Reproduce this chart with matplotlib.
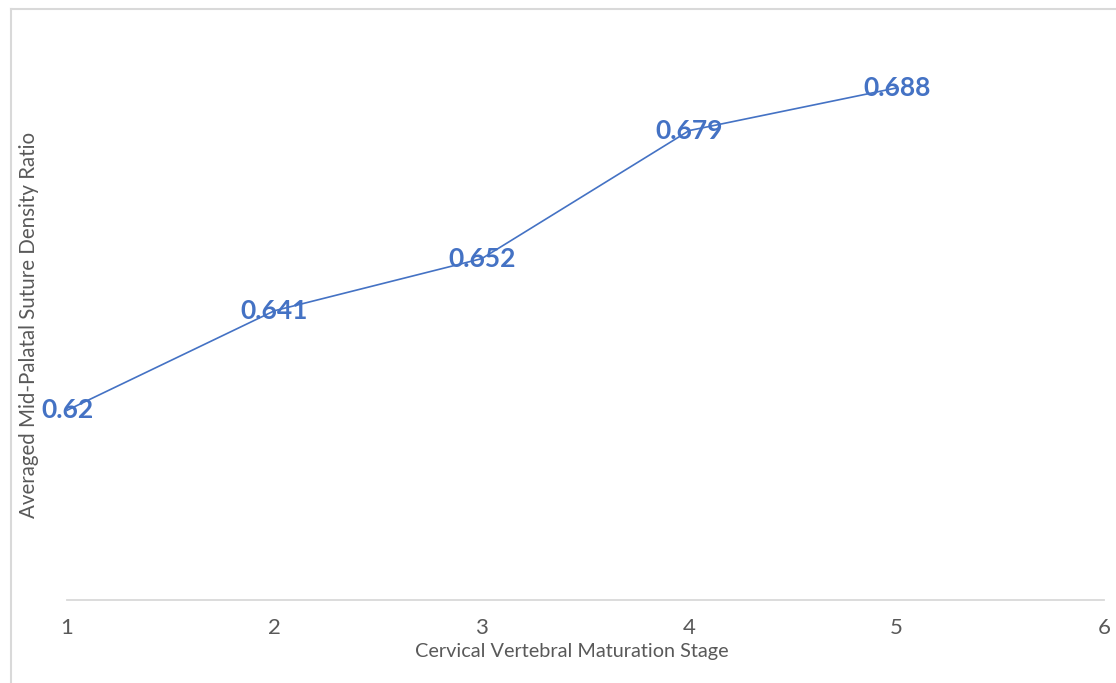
import matplotlib
matplotlib.use("Agg")
import matplotlib.pyplot as plt
from matplotlib.lines import Line2D

# mean suture density ratio per CVM stage
stages = [1, 2, 3, 4, 5]
density_ratio = [0.62, 0.641, 0.652, 0.679, 0.688]
xtick_vals = [1, 2, 3, 4, 5, 6]

blue = "#4472C4"
grey_txt = "#595959"
grey_line = "#D9D9D9"

plt.rcParams['font.family'] = ['Lato', 'DejaVu Sans']

fig = plt.figure(figsize=(11.16, 6.83), dpi=100)
ax = fig.add_axes([67 / 1116, 1 - 600 / 683, (1104 - 67) / 1116, (600 - 31) / 683])

ax.plot(stages, density_ratio, color=blue, lw=1.2, zorder=2)
for x, y in zip(stages, density_ratio):
    ax.text(x, y, f"{y:g}", ha="center", va="center", color=blue,
            fontsize=19, fontweight="bold", zorder=3)

ax.set_xlim(1, 6)
ax.set_ylim(0.58, 0.70)
ax.set_xticks(xtick_vals)
ax.set_xticklabels([str(v) for v in xtick_vals])
ax.set_yticks([])
ax.tick_params(axis="x", length=0, pad=13, labelsize=16, labelcolor=grey_txt)

for side in ["top", "right", "left"]:
    ax.spines[side].set_visible(False)
ax.spines["bottom"].set_color(grey_line)
ax.spines["bottom"].set_linewidth(1.3)

fig.text(572 / 1116, 1 - 651 / 683, "Cervical Vertebral Maturation Stage",
         ha="center", va="center", fontsize=14.3, color=grey_txt)
fig.text(29 / 1116, 1 - 325 / 683, "Averaged Mid-Palatal Suture Density Ratio",
         ha="center", va="center", rotation=90, fontsize=14.8, color=grey_txt)

# chart frame (only top and left edges fall inside the image)
fig.add_artist(Line2D([11 / 1116, 1], [1 - 9 / 683] * 2, transform=fig.transFigure,
                      color=grey_line, lw=1.5))
fig.add_artist(Line2D([11 / 1116] * 2, [0, 1 - 9 / 683], transform=fig.transFigure,
                      color=grey_line, lw=1.5))

fig.savefig("out.png", dpi=100)
